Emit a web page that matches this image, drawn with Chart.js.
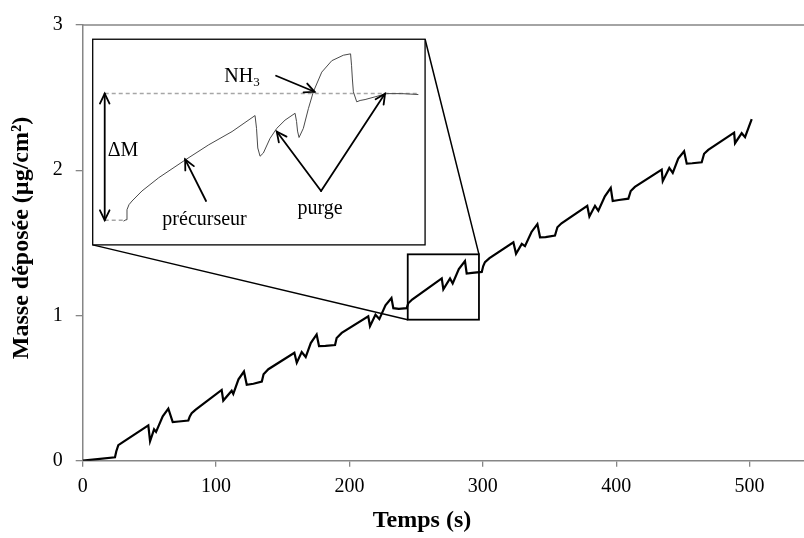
<!DOCTYPE html>
<html>
<head>
<meta charset="utf-8">
<script src="https://cdn.jsdelivr.net/npm/chart.js@4.4.0/dist/chart.umd.min.js"></script>
<style>
html,body{margin:0;padding:0;background:#fff;overflow:hidden}
#wrap{width:804px;height:538px;position:relative}
</style>
</head>
<body>
<div id="wrap"><canvas id="c" width="804" height="538"></canvas></div>
<script>
// ---------- main curve: deposited mass vs time ----------
const timeS = [
  0, 24.2, 25.2, 26.7, 30.4, 49.2, 50.5, 53.5, 55.0, 60.0, 64.2, 67.5, 72.0, 79.2,
  80.3, 81.7, 84.5, 104.2, 105.4, 111.7, 112.9, 116.8, 120.9, 123.0, 128.0, 134.3,
  135.6, 139.2, 158.7, 160.5, 164.2, 167.2, 171.0, 175.4, 177.2, 182.0, 189.2,
  190.4, 194.2, 214.1, 215.4, 219.5, 222.4, 227.0, 231.5, 232.9, 237.0, 242.9,
  244.1, 247.0, 269.2, 270.4, 275.4, 277.4, 282.0, 286.6, 287.9, 292.0, 299.2,
  300.3, 301.6, 305.0, 322.9, 324.9, 329.2, 331.6, 336.5, 340.9, 342.9, 347.0, 354.1,
  355.9, 359.0, 378.3, 379.9, 384.1, 386.6, 391.5, 395.9, 397.4, 402.0, 409.1,
  410.9, 414.0, 434.1, 434.9, 439.8, 442.4, 446.5, 450.9, 452.9, 457.0, 464.1,
  465.9, 469.0, 488.4, 489.1, 494.1, 496.6, 501.6
];
const massUg = [
  0, 0.023, 0.065, 0.107, 0.130, 0.243, 0.134, 0.216, 0.198, 0.305, 0.358, 0.266, 0.270, 0.277,
  0.305, 0.327, 0.350, 0.487, 0.414, 0.482, 0.460, 0.560, 0.614, 0.523, 0.530, 0.545,
  0.595, 0.630, 0.743, 0.675, 0.748, 0.714, 0.810, 0.869, 0.789, 0.790, 0.796,
  0.845, 0.880, 0.994, 0.926, 1.005, 0.975, 1.070, 1.120, 1.050, 1.045, 1.050,
  1.084, 1.110, 1.255, 1.180, 1.255, 1.220, 1.320, 1.375, 1.289, 1.293, 1.300,
  1.340, 1.367, 1.395, 1.504, 1.425, 1.493, 1.477, 1.575, 1.629, 1.538, 1.540, 1.550,
  1.607, 1.635, 1.755, 1.682, 1.755, 1.721, 1.820, 1.879, 1.788, 1.795, 1.804,
  1.857, 1.885, 2.004, 1.925, 2.016, 1.982, 2.080, 2.130, 2.045, 2.048, 2.055,
  2.113, 2.140, 2.259, 2.186, 2.255, 2.228, 2.352
];
const xTicks = [0, 100, 200, 300, 400, 500];
const yTicks = [0, 1, 2, 3];

// ---------- inset: magnified single cycle (same units as main chart) ----------
const insetTime = [
  248.65, 249.05, 249.21, 249.53, 250.02, 251.62, 254.31, 258.58, 262.34, 266.09,
  269.78, 270.02, 270.22, 270.59, 271.12, 272.19, 273.27, 274.60, 276.21, 276.45,
  276.61, 276.85, 277.54, 278.35, 279.15, 280.50, 282.11, 283.97, 285.13, 285.29,
  285.42, 285.58, 286.12, 286.66, 287.46, 289.07, 290.95, 293.36, 294.69, 296.02
];
const insetMass = [
  1.023, 1.026, 1.048, 1.059, 1.067, 1.089, 1.118, 1.157, 1.190, 1.219,
  1.254, 1.226, 1.183, 1.165, 1.172, 1.204, 1.226, 1.244, 1.259, 1.241,
  1.220, 1.206, 1.226, 1.269, 1.306, 1.349, 1.374, 1.386, 1.389, 1.363,
  1.334, 1.306, 1.284, 1.287, 1.289, 1.295, 1.302, 1.302, 1.301, 1.300
];
const levelHighTime = [245.63, 296.02];
const levelHighMass = [1.302, 1.302];
const levelLowTime = [245.63, 248.84];
const levelLowMass = [1.025, 1.025];

// ---------- layout constants (main-chart units) ----------
const X_MIN = 0, X_MAX = 540.8, Y_MIN = 0, Y_MAX = 3;
const REGION = {x0: 243.7, x1: 297.1, y0: 0.971, y1: 1.421};   // magnified window
const INSET  = {x0: 7.5,   x1: 256.7, y0: 1.486, y1: 2.902};   // where the inset sits
const sx = (INSET.x1 - INSET.x0) / (REGION.x1 - REGION.x0);
const sy = (INSET.y1 - INSET.y0) / (REGION.y1 - REGION.y0);
const X2_MIN = REGION.x0 + (X_MIN - INSET.x0) / sx;
const X2_MAX = REGION.x0 + (X_MAX - INSET.x0) / sx;
const Y2_MIN = REGION.y0 + (Y_MIN - INSET.y0) / sy;
const Y2_MAX = REGION.y0 + (Y_MAX - INSET.y0) / sy;

// inset annotations (inset units)
const ARROWS = [
  {from: [261.91, 1.067], to: [258.55, 1.158], both: false},   // précurseur
  {from: [273.16, 1.341], to: [279.34, 1.306], both: false},   // NH3
  {from: [280.39, 1.089], to: [273.27, 1.219], both: false},   // purge 1
  {from: [280.39, 1.089], to: [290.67, 1.302], both: false},   // purge 2
  {from: [245.63, 1.025], to: [245.63, 1.302], both: true}     // ΔM
];
const LABELS = [
  {text: 'ΔM', at: [248.57, 1.176]},
  {text: 'précurseur', at: [261.67, 1.025]},
  {text: 'purge', at: [280.23, 1.051]}
];
const NH3_AT = [267.69, 1.339];

const AXIS_GRAY = '#868686';
const SERIF = '"Liberation Serif", "Times New Roman", serif';

function toXY(a, b) { return a.map((v, i) => ({x: v, y: b[i]})); }

function arrow(ctx, x1, y1, x2, y2, both) {
  const head = (xa, ya, xb, yb) => {
    const ang = Math.atan2(yb - ya, xb - xa), L = 11, A = 0.45;
    ctx.beginPath();
    ctx.moveTo(xb - L * Math.cos(ang - A), yb - L * Math.sin(ang - A));
    ctx.lineTo(xb, yb);
    ctx.lineTo(xb - L * Math.cos(ang + A), yb - L * Math.sin(ang + A));
    ctx.stroke();
  };
  ctx.beginPath(); ctx.moveTo(x1, y1); ctx.lineTo(x2, y2); ctx.stroke();
  head(x1, y1, x2, y2);
  if (both) head(x2, y2, x1, y1);
}

const decor = {
  id: 'decor',
  beforeDatasetsDraw(chart) {
    const {ctx, chartArea: ca} = chart;
    const x = chart.scales.x, y = chart.scales.y;
    ctx.save();
    // top border of plot area
    ctx.strokeStyle = AXIS_GRAY; ctx.lineWidth = 1.5;
    ctx.beginPath(); ctx.moveTo(ca.left, ca.top); ctx.lineTo(ca.right, ca.top); ctx.stroke();
    // connectors
    ctx.strokeStyle = '#000'; ctx.lineWidth = 1.5;
    ctx.beginPath();
    ctx.moveTo(x.getPixelForValue(INSET.x0), y.getPixelForValue(INSET.y0));
    ctx.lineTo(x.getPixelForValue(REGION.x0), y.getPixelForValue(REGION.y0));
    ctx.moveTo(x.getPixelForValue(INSET.x1), y.getPixelForValue(INSET.y1));
    ctx.lineTo(x.getPixelForValue(REGION.x1), y.getPixelForValue(REGION.y1));
    ctx.stroke();
    // inset box
    const ix = x.getPixelForValue(INSET.x0), iy = y.getPixelForValue(INSET.y1);
    const iw = x.getPixelForValue(INSET.x1) - ix, ih = y.getPixelForValue(INSET.y0) - iy;
    ctx.fillStyle = '#fff'; ctx.fillRect(ix, iy, iw, ih);
    ctx.lineWidth = 1.3; ctx.strokeRect(ix, iy, iw, ih);
    // magnified-region rectangle
    const rx = x.getPixelForValue(REGION.x0), ry = y.getPixelForValue(REGION.y1);
    const rw = x.getPixelForValue(REGION.x1) - rx, rh = y.getPixelForValue(REGION.y0) - ry;
    ctx.lineWidth = 1.8; ctx.strokeRect(rx, ry, rw, rh);
    ctx.restore();
  },
  afterDatasetsDraw(chart) {
    const {ctx} = chart;
    const x2 = chart.scales.x2, y2 = chart.scales.y2;
    ctx.save();
    ctx.strokeStyle = '#000'; ctx.lineWidth = 1.8; ctx.lineCap = 'round';
    ARROWS.forEach(a => arrow(ctx,
      x2.getPixelForValue(a.from[0]), y2.getPixelForValue(a.from[1]),
      x2.getPixelForValue(a.to[0]), y2.getPixelForValue(a.to[1]), a.both));
    ctx.fillStyle = '#000';
    ctx.font = '20px ' + SERIF; ctx.textAlign = 'center'; ctx.textBaseline = 'middle';
    LABELS.forEach(l => ctx.fillText(l.text, x2.getPixelForValue(l.at[0]), y2.getPixelForValue(l.at[1])));
    // NH3 with subscript
    const nx = x2.getPixelForValue(NH3_AT[0]), ny = y2.getPixelForValue(NH3_AT[1]);
    ctx.textAlign = 'left';
    const wNH = ctx.measureText('NH').width;
    ctx.font = '13px ' + SERIF;
    const w3 = ctx.measureText('3').width;
    const startX = nx - (wNH + w3) / 2;
    ctx.font = '20px ' + SERIF;
    ctx.fillText('NH', startX, ny);
    ctx.font = '13px ' + SERIF;
    ctx.fillText('3', startX + wNH, ny + 6);
    // axis titles
    ctx.font = 'bold 24px ' + SERIF;
    ctx.textAlign = 'center';
    ctx.fillText('Temps (s)', 422, 521);
    ctx.translate(22, 238); ctx.rotate(-Math.PI / 2);
    ctx.fillText('Masse déposée (µg/cm²)', 0, 0);
    ctx.restore();
  }
};

new Chart(document.getElementById('c'), {
  type: 'line',
  data: {
    datasets: [
      {data: toXY(timeS, massUg), xAxisID: 'x', yAxisID: 'y', borderColor: '#000', borderWidth: 2.2,
       pointRadius: 0, tension: 0, fill: false},
      {data: toXY(insetTime, insetMass), xAxisID: 'x2', yAxisID: 'y2', borderColor: '#4a4a4a', borderWidth: 1,
       pointRadius: 0, tension: 0, fill: false},
      {data: toXY(levelHighTime, levelHighMass), xAxisID: 'x2', yAxisID: 'y2', borderColor: '#a6a6a6',
       borderWidth: 1.5, borderDash: [4, 3], pointRadius: 0, fill: false},
      {data: toXY(levelLowTime, levelLowMass), xAxisID: 'x2', yAxisID: 'y2', borderColor: '#a6a6a6',
       borderWidth: 1.5, borderDash: [4, 3], pointRadius: 0, fill: false}
    ]
  },
  options: {
    responsive: false, animation: false, devicePixelRatio: 1,
    layout: {padding: {top: 20.7, right: 0, bottom: 0, left: 0}},
    plugins: {legend: {display: false}, tooltip: {enabled: false}},
    scales: {
      x: {
        type: 'linear', position: 'bottom', min: X_MIN, max: X_MAX,
        afterFit: s => { s.height = 77.3; },
        afterBuildTicks: s => { s.ticks = xTicks.map(v => ({value: v})); },
        ticks: {font: {family: SERIF, size: 20}, color: '#000', padding: 8, maxRotation: 0, autoSkip: false},
        grid: {display: true, drawOnChartArea: false, drawTicks: true, tickLength: 6, color: AXIS_GRAY, lineWidth: 1.3},
        border: {display: true, color: AXIS_GRAY, width: 1.5}
      },
      y: {
        type: 'linear', position: 'left', min: Y_MIN, max: Y_MAX,
        afterFit: s => { s.width = 82.7; },
        afterBuildTicks: s => { s.ticks = yTicks.map(v => ({value: v})); },
        ticks: {font: {family: SERIF, size: 20}, color: '#000', padding: 13},
        grid: {display: true, drawOnChartArea: false, drawTicks: true, tickLength: 7, color: AXIS_GRAY, lineWidth: 1.3},
        border: {display: true, color: AXIS_GRAY, width: 1.5}
      },
      x2: {type: 'linear', axis: 'x', display: false, min: X2_MIN, max: X2_MAX},
      y2: {type: 'linear', axis: 'y', display: false, min: Y2_MIN, max: Y2_MAX}
    }
  },
  plugins: [decor]
});
</script>
</body>
</html>
